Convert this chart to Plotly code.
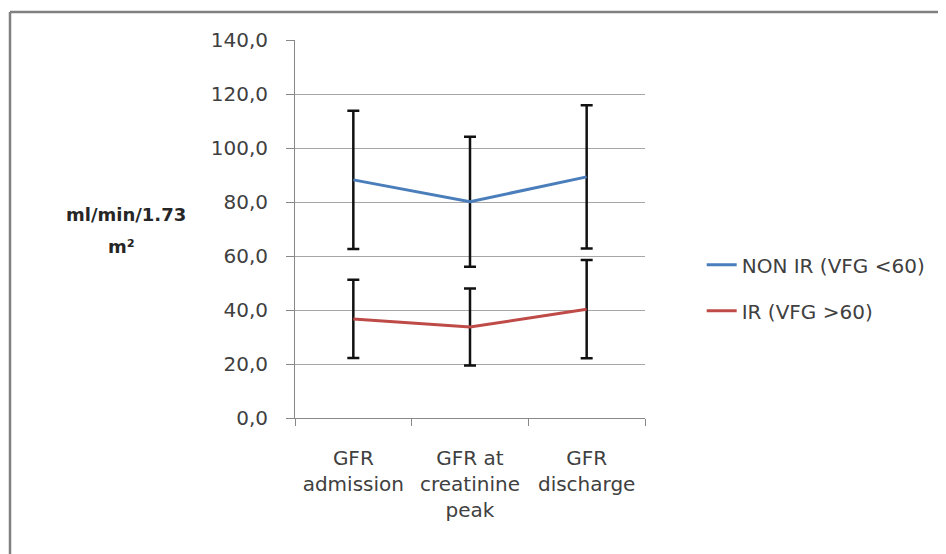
import plotly.graph_objects as go

categories = ["GFR<br>admission", "GFR at<br>creatinine<br>peak", "GFR<br>discharge"]
nonir_name = "NON IR (VFG <60)"
nonir_mean = [88.2, 80.1, 89.3]
nonir_sd = [25.6, 24.1, 26.5]
ir_name = "IR (VFG >60)"
ir_mean = [36.7, 33.7, 40.3]
ir_sd = [14.5, 14.3, 18.2]
y_tickvals = [0, 20, 40, 60, 80, 100, 120, 140]
y_ticktext = ["0,0", "20,0", "40,0", "60,0", "80,0", "100,0", "120,0", "140,0"]
y_title_lines = ["ml/min/1.73", "m²"]

FONT = "DejaVu Sans"
TXT = "#404040"

# page has an 8px body margin; plot area in page coords: x 295-645, y 40-418
PL, PR, PT, PB = 295, 645, 40, 418
W, H = PR - PL, PB - PT


def px(x):
    return (x - PL) / W


def py(y):
    return (PB - y) / H


fig = go.Figure()
fig.add_trace(go.Scatter(
    x=categories, y=nonir_mean, name=nonir_name, mode="lines",
    line=dict(color="#4a7ebb", width=3), legendgroup="a",
    error_y=dict(type="data", array=nonir_sd, visible=True, color="#111111", thickness=2.5, width=6),
))
fig.add_trace(go.Scatter(
    x=categories, y=ir_mean, name=ir_name, mode="lines",
    line=dict(color="#be4b48", width=3), legendgroup="b",
    error_y=dict(type="data", array=ir_sd, visible=True, color="#111111", thickness=2.5, width=6),
))

fig.update_layout(
    width=946, height=554,
    margin=dict(l=PL - 8, r=946 - (PR - 8), t=PT - 8, b=554 - (PB - 8)),
    paper_bgcolor="white", plot_bgcolor="white",
    font=dict(family=FONT, size=20, color=TXT),
    showlegend=True,
    legend=dict(x=1.162, y=0.457, xanchor="left", yanchor="top",
                font=dict(family=FONT, size=20, color=TXT),
                traceorder="grouped", tracegroupgap=17,
                bgcolor="rgba(0,0,0,0)"),
    xaxis=dict(type="category", range=[-0.5, 2.5], showgrid=False,
               showline=True, linecolor="#888888", linewidth=1,
               ticks="outside", tickson="boundaries", ticklen=7, tickcolor="#888888",
               tickfont=dict(family=FONT, size=20, color=TXT), ticklabelstandoff=22,
               fixedrange=True),
    yaxis=dict(range=[0, 140], tickvals=y_tickvals, ticktext=y_ticktext,
               showgrid=True, gridcolor="#a6a6a6", gridwidth=1,
               showline=True, linecolor="#888888", linewidth=1,
               ticks="outside", ticklen=8, tickcolor="#888888",
               tickfont=dict(family=FONT, size=20, color=TXT), ticklabelstandoff=14,
               zeroline=False, fixedrange=True),
)

# y axis title as two annotations (wide line spacing as in reference)
fig.add_annotation(text="<b>" + y_title_lines[0] + "</b>", xref="paper", yref="paper",
                   x=px(126), y=py(215), showarrow=False,
                   xanchor="center", yanchor="middle",
                   font=dict(family=FONT, size=18, color="#262626"))
fig.add_annotation(text="<b>" + y_title_lines[1] + "</b>", xref="paper", yref="paper",
                   x=px(121), y=py(246), showarrow=False,
                   xanchor="center", yanchor="middle",
                   font=dict(family=FONT, size=18, color="#262626"))

# chart frame (left and top edges visible)
fig.add_shape(type="line", xref="paper", yref="paper",
              x0=px(10), x1=px(960), y0=py(12), y1=py(12),
              line=dict(color="#808080", width=2.5))
fig.add_shape(type="line", xref="paper", yref="paper",
              x0=px(10), x1=px(10), y0=py(12), y1=py(570),
              line=dict(color="#808080", width=2.5))

fig.write_html("out.html")
